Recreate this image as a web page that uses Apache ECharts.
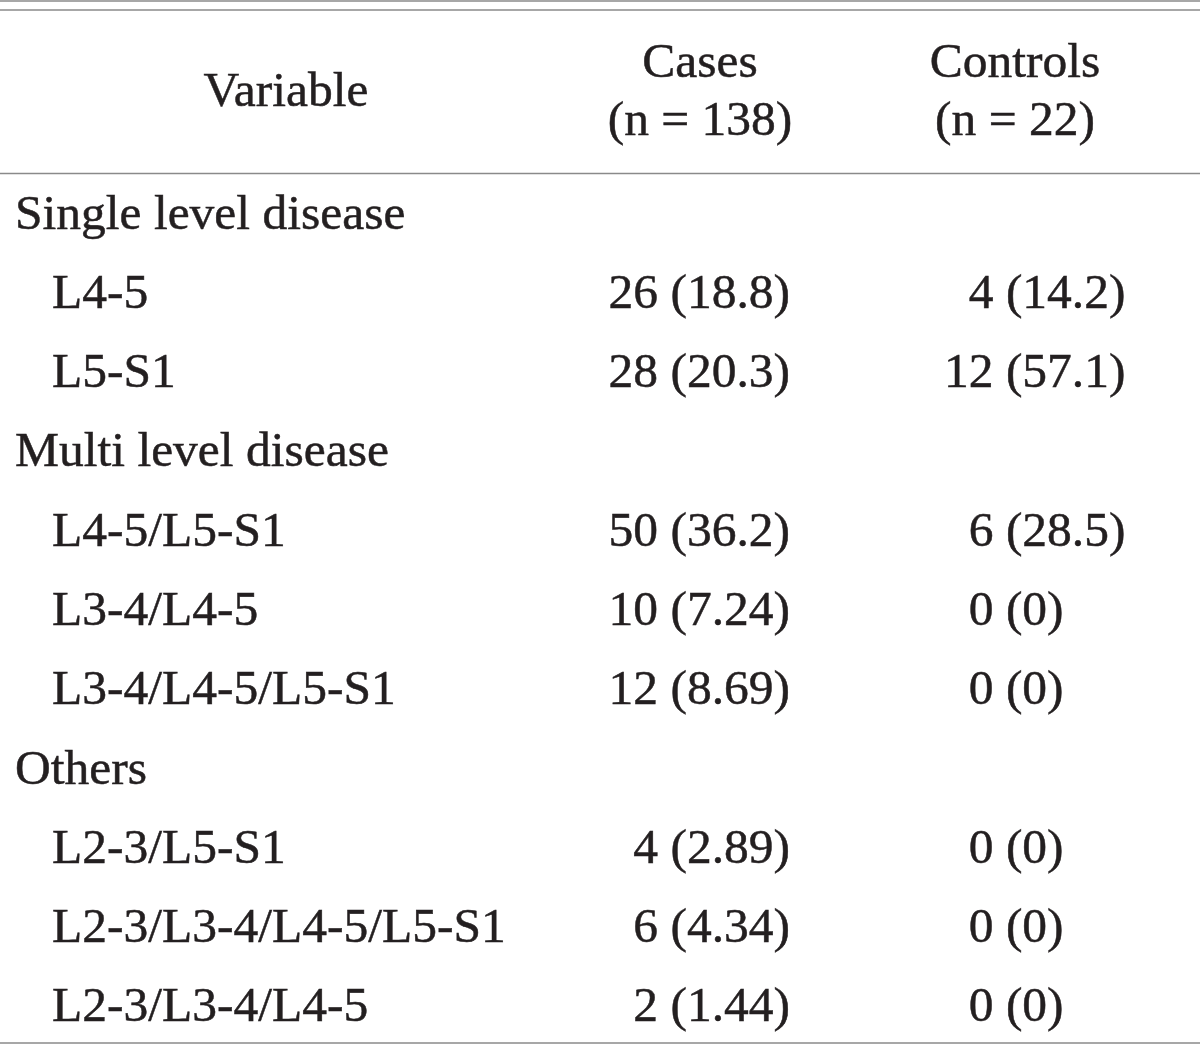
<!DOCTYPE html>
<html>
<head>
<meta charset="utf-8">
<script src="https://cdn.jsdelivr.net/npm/echarts@6/dist/echarts.min.js"></script>
<style>
html,body{margin:0;padding:0;background:#fff;}
#chart{width:1200px;height:1045px;}
</style>
</head>
<body>
<div id="chart"></div>
<script>
// ---- data ----
const headers = ['Variable', 'Cases\n(n = 138)', 'Controls\n(n = 22)'];
const columns = ['Variable', 'Cases', 'Controls'];
const rowLabels = ['Single level disease', 'L4-5', 'L5-S1', 'Multi level disease', 'L4-5/L5-S1', 'L3-4/L4-5', 'L3-4/L4-5/L5-S1', 'Others', 'L2-3/L5-S1', 'L2-3/L3-4/L4-5/L5-S1', 'L2-3/L3-4/L4-5'];
const isGroup = [true, false, false, true, false, false, false, true, false, false, false];
const casesN = [null, 26, 28, null, 50, 10, 12, null, 4, 6, 2];
const casesPct = [null, '18.8', '20.3', null, '36.2', '7.24', '8.69', null, '2.89', '4.34', '1.44'];
const controlsN = [null, 4, 12, null, 6, 0, 0, null, 0, 0, 0];
const controlsPct = [null, '14.2', '57.1', null, '28.5', '0', '0', null, '0', '0', '0'];

// ---- style ----
const FONT = 'Liberation Serif';
const FS = 49.5;
const TXT = '#231f20';
const RULE = '#8a8a8a';
const DY = 3;

const chart = echarts.init(document.getElementById('chart'), null, {renderer: 'canvas'});

const baseLabel = {show: true, fontFamily: FONT, fontSize: FS, color: TXT, opacity: 1, verticalAlign: 'middle',
  textBorderColor: TXT, textBorderWidth: 0.5};

const varData = rowLabels.map((t, i) => ({
  value: [0, i],
  label: Object.assign({}, baseLabel, {align: 'left', offset: isGroup[i] ? [-185, DY] : [-148, DY], formatter: t})
}));
const casesData = [];
const controlsData = [];
rowLabels.forEach((t, i) => {
  if (casesN[i] !== null) {
    casesData.push({value: [1, i], label: Object.assign({}, baseLabel, {align: 'right', offset: [190, DY], formatter: casesN[i] + ' (' + casesPct[i] + ')'})});
  }
  if (controlsN[i] !== null) {
    const s = String(controlsN[i]);
    const pad = s.length < 2 ? '\u2007' : '';
    controlsData.push({value: [2, i], label: Object.assign({}, baseLabel, {align: 'left', offset: [-56, DY], formatter: pad + s + ' (' + controlsPct[i] + ')'})});
  }
});

function scat(name, data) {
  return {type: 'scatter', name, data, symbolSize: 0, silent: true, itemStyle: {opacity: 1}, label: baseLabel,
    emphasis: {disabled: true}};
}

const headerX = [286, 700, 1015];
const graphics = headers.map((h, i) => ({
  type: 'text',
  x: headerX[i],
  y: 93,
  style: {text: h, font: FS + 'px "' + FONT + '"', fill: TXT, stroke: TXT, lineWidth: 0.5, align: 'center', verticalAlign: 'middle', lineHeight: 58}
}));
[1, 10, 173.5, 1043].forEach(y => {
  graphics.push({type: 'line', shape: {x1: 0, y1: y, x2: 1200, y2: y}, style: {stroke: RULE, lineWidth: 1.6}});
});

chart.setOption({
  animation: false,
  backgroundColor: '#fff',
  grid: {left: 0, right: 0, top: 173, height: 872},
  xAxis: {type: 'category', data: columns, show: false},
  yAxis: {type: 'category', data: rowLabels, inverse: true, show: false},
  series: [scat('Variable', varData), scat('Cases', casesData), scat('Controls', controlsData)],
  graphic: graphics
});
</script>
</body>
</html>
